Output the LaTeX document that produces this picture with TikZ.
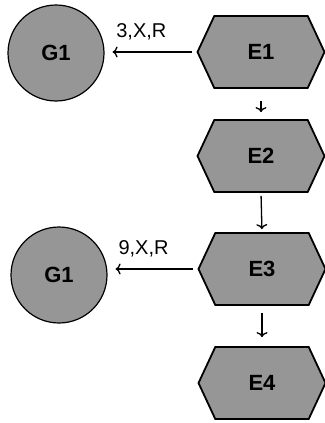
\documentclass[tikz,border=0pt]{standalone}
\usepackage{fontspec}
\setmainfont{Liberation Sans}
\usetikzlibrary{positioning}
\usetikzlibrary{shapes.symbols}
\usetikzlibrary{arrows.meta}
\definecolor{dots}{RGB}{150,150,150}

\begin{document}
\begin{tikzpicture} [
    x=1pt, y=1pt,
    g/.style={
        circle, draw, line width=1.2pt, fill=dots,
        minimum size=96pt, inner sep=0pt,
        font=\fontsize{22}{26}\selectfont\bfseries
    },
    e/.style={
        signal, signal to=west and east, signal pointer angle=130,
        draw, line width=1.8pt, fill=dots,
        minimum width=127pt, minimum height=72pt, inner sep=0pt,
        font=\fontsize{22}{26}\selectfont\bfseries
    },
    lbl/.style={
        font=\fontsize{20}{24}\selectfont, anchor=south
    },
    a/.style={
        -{To[length=5pt,width=11pt]}, line width=1.3pt
    }
]

\useasboundingbox (0,0) rectangle (324,-423);

\node [e] (e1) at (261, -52)  {E1};
\node [e] (e2) at (261, -156) {E2};
\node [e] (e3) at (262, -269) {E3};
\node [e] (e4) at (262, -383) {E4};

\node [g] (g1) at (56, -53)  {G1};
\node [g] (g2) at (59, -275) {G1};

\draw [a,shorten <=5pt,shorten >=8pt] (e1.west) -- (e1.west -| g1.east)
    node [lbl,pos=0.6,yshift=8pt] (l1) {3,X,R};
\draw [a,shorten <=5pt,shorten >=8pt] (e3.west) -- (e3.west -| g2.east)
    node [lbl,pos=0.6,yshift=8pt] (l2) {9,X,R};

\draw [a,shorten <=12pt,shorten >=7pt] (e1.south) -- (e2.north);
\draw [a,shorten <=3pt,shorten >=3pt] (e2.south) -- (e3.north);
\draw [a,shorten <=7pt,shorten >=9pt] (e3.south) -- (e4.north);

\end{tikzpicture}
\end{document}
